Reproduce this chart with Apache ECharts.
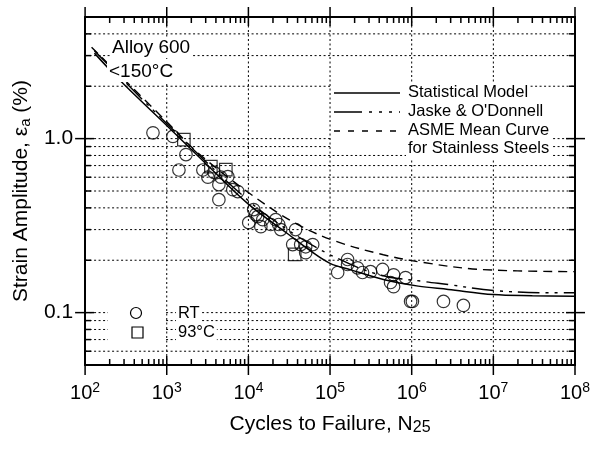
<!DOCTYPE html>
<html><head><meta charset="utf-8">
<script src="https://cdn.jsdelivr.net/npm/echarts@6/dist/echarts.min.js"></script>
<style>html,body{margin:0;padding:0;background:#fff}#c{width:600px;height:454px}</style>
</head><body><div id="c"></div>
<script>
// ---- axis limits / ticks ----
const xMin = 1e2, xMax = 1e8;
const yMin = 0.05, yMax = 5;
const xDecades = [1e2, 1e3, 1e4, 1e5, 1e6, 1e7, 1e8];
const xMinorMult = [2, 3, 4, 5, 6, 7, 8, 9];
const yGridValues = [0.05, 0.06, 0.07, 0.08, 0.09, 0.1, 0.2, 0.3, 0.4, 0.5, 0.6, 0.7, 0.8, 0.9, 1, 2, 3, 4, 5];
const yLabelValues = [0.1, 1.0];
const yLabelTexts = ['0.1', '1.0'];

// ---- curves ----
const statN = [130, 284, 1000, 3000, 10000, 30000, 55000, 100000, 180000, 450000, 1.2e6, 2.8e6, 1e7, 3e7, 1e8];
const statV = [3.1, 2.1, 1.19, 0.72, 0.42, 0.285, 0.23, 0.192, 0.176, 0.155, 0.142, 0.136, 0.127, 0.125, 0.124];
const jaskeN = [130, 1000, 10000, 30000, 100000, 400000, 1.4e6, 2.8e6, 1e7, 5.4e7, 1e8];
const jaskeV = [3.2, 1.22, 0.44, 0.30, 0.215, 0.165, 0.151, 0.145, 0.134, 0.130, 0.130];
const asmeN = [120, 1000, 2400, 10000, 36000, 110000, 450000, 1.4e6, 6.9e6, 1e8];
const asmeV = [3.35, 1.25, 0.83, 0.49, 0.33, 0.26, 0.215, 0.194, 0.177, 0.172];

// ---- data points ----
const rtN = [678, 1190, 1720, 1410, 2770, 3190, 3780, 4600, 5600, 4350, 4350, 6440, 7420,
  10100, 11600, 13000, 14200, 18800, 21600, 23500, 24900, 37900, 34900, 43700, 50300, 61300, 50300, 12300, 15000,
  124000, 164000, 164000, 217000, 250000, 313000, 440000, 600000, 840000, 551000, 600000,
  1.02e6, 9.7e5, 2.45e6, 4.3e6];
const rtV = [1.08, 1.03, 0.81, 0.66, 0.66, 0.60, 0.64, 0.60, 0.605, 0.544, 0.446, 0.509, 0.496,
  0.329, 0.391, 0.356, 0.312, 0.321, 0.342, 0.321, 0.300, 0.300, 0.246, 0.246, 0.239, 0.246, 0.221, 0.366, 0.342,
  0.170, 0.202, 0.189, 0.181, 0.170, 0.172, 0.177, 0.165, 0.159, 0.149, 0.141,
  0.116, 0.116, 0.116, 0.110];
const hotN = [1620, 3470, 5290, 36900];
const hotV = [0.987, 0.69, 0.664, 0.216];

const FONT = '"Liberation Sans", Arial, Helvetica, sans-serif';
const near = (a, b) => Math.abs(a - b) < 1e-6 * Math.max(1, Math.abs(b));

const xTickValues = [];
xDecades.forEach((d, i) => {
  xTickValues.push(d);
  if (i < xDecades.length - 1) xMinorMult.forEach(m => xTickValues.push(d * m));
});

const blackLine = { stroke: '#000', lineWidth: 1.5 };
const dotted = { stroke: '#000', lineWidth: 1, lineDash: [2, 2.5] };

const chart = echarts.init(document.getElementById('c'), null, { renderer: 'canvas' });

const option = {
  backgroundColor: '#fff',
  animation: false,
  textStyle: { fontFamily: FONT },
  grid: { left: 84, right: 25, top: 17, bottom: 89, containLabel: false },
  xAxis: [{
    type: 'log', logBase: 10, min: xMin, max: xMax,
    position: 'bottom',
    axisLine: { lineStyle: { color: '#000', width: 2 } },
    axisTick: { show: false },
    splitLine: { show: false },
    axisLabel: {
      margin: 16, color: '#000', fontFamily: FONT,
      formatter: v => '{b|10}{s|' + Math.round(Math.log10(v)) + '}',
      rich: {
        b: { fontSize: 20, lineHeight: 22, verticalAlign: 'bottom', fontFamily: FONT, color: '#000' },
        s: { fontSize: 14, lineHeight: 14, verticalAlign: 'top', fontFamily: FONT, color: '#000' }
      }
    },
    name: 'Cycles to Failure, N{s|25}',
    nameLocation: 'middle', nameGap: 44,
    nameTextStyle: {
      fontSize: 21, color: '#000', fontFamily: FONT, lineHeight: 23, verticalAlign: 'top',
      rich: { s: { fontSize: 16, lineHeight: 16, padding: [12, 0, 0, 0], verticalAlign: 'bottom', fontFamily: FONT, color: '#000' } }
    }
  }, {
    type: 'log', logBase: 10, min: xMin, max: xMax,
    position: 'top',
    axisLine: { lineStyle: { color: '#000', width: 2 } },
    axisTick: { show: false }, axisLabel: { show: false }, splitLine: { show: false }
  }],
  yAxis: [{
    type: 'log', logBase: 10, min: yMin, max: yMax,
    position: 'left',
    axisLine: { lineStyle: { color: '#000', width: 2 } },
    axisTick: { show: false },
    splitLine: { show: false },
    axisLabel: {
      margin: 12, fontSize: 21, color: '#000', fontFamily: FONT,
      formatter: v => {
        for (let i = 0; i < yLabelValues.length; i++) if (near(v, yLabelValues[i])) return yLabelTexts[i];
        return '';
      }
    },
    name: 'Strain Amplitude, ε{s|a} (%)',
    nameLocation: 'middle', nameGap: 52,
    nameTextStyle: {
      fontSize: 21, color: '#000', fontFamily: FONT, lineHeight: 23, verticalAlign: 'top',
      rich: { s: { fontSize: 15, lineHeight: 15, padding: [10, 0, 0, 0], verticalAlign: 'bottom', fontFamily: FONT, color: '#000' } }
    }
  }, {
    type: 'log', logBase: 10, min: yMin, max: yMax,
    position: 'right',
    axisLine: { lineStyle: { color: '#000', width: 2 } },
    axisTick: { show: false }, axisLabel: { show: false }, splitLine: { show: false }
  }],
  series: [
    {
      name: 'ygrid', type: 'custom', clip: false, z: 1, silent: true,
      data: yGridValues.map(v => [xMin, v]),
      renderItem: (params, api) => {
        const v = api.value(1);
        const a = api.coord([xMin, v]), b = api.coord([xMax, v]);
        const major = yLabelValues.some(m => near(v, m));
        const ch = [];
        if (!near(v, yMin) && !near(v, yMax)) {
          ch.push({ type: 'line', shape: { x1: a[0], y1: a[1], x2: b[0], y2: b[1] }, style: dotted });
          const tin = major ? 9 : 6, tout = major ? 10 : 0;
          ch.push({ type: 'line', shape: { x1: a[0] - tout, y1: a[1], x2: a[0] + tin, y2: a[1] }, style: blackLine });
          ch.push({ type: 'line', shape: { x1: b[0] - tin, y1: b[1], x2: b[0] + tout, y2: b[1] }, style: blackLine });
        }
        return { type: 'group', children: ch };
      }
    },
    {
      name: 'xgrid', type: 'custom', clip: false, z: 1, silent: true,
      data: xTickValues.map(n => [n, yMin]),
      renderItem: (params, api) => {
        const n = api.value(0);
        const a = api.coord([n, yMin]), b = api.coord([n, yMax]);
        const major = xDecades.some(d => near(n, d));
        const ch = [];
        if (major && !near(n, xMin) && !near(n, xMax)) {
          ch.push({ type: 'line', shape: { x1: a[0], y1: a[1], x2: b[0], y2: b[1] }, style: dotted });
        }
        const tin = major ? 9 : 6, tout = major ? 10 : 0;
        ch.push({ type: 'line', shape: { x1: a[0], y1: a[1] + tout, x2: a[0], y2: a[1] - tin }, style: blackLine });
        ch.push({ type: 'line', shape: { x1: b[0], y1: b[1] - tout, x2: b[0], y2: b[1] + tin }, style: blackLine });
        return { type: 'group', children: ch };
      }
    },
    {
      name: 'ASME Mean Curve for Stainless Steels', type: 'line', z: 3,
      data: asmeN.map((n, i) => [n, asmeV[i]]),
      showSymbol: false, smooth: 0.35, silent: true,
      lineStyle: { color: '#000', width: 1.4, type: [9, 6] }
    },
    {
      name: "Jaske & O'Donnell", type: 'line', z: 3,
      data: jaskeN.map((n, i) => [n, jaskeV[i]]),
      showSymbol: false, smooth: 0.35, silent: true,
      lineStyle: { color: '#000', width: 1.4, type: [22, 6, 3, 6, 3, 6] }
    },
    {
      name: 'Statistical Model', type: 'line', z: 3,
      data: statN.map((n, i) => [n, statV[i]]),
      showSymbol: false, smooth: 0.35, silent: true,
      lineStyle: { color: '#000', width: 1.5 }
    },
    {
      name: 'RT', type: 'scatter', z: 4, symbol: 'circle', symbolSize: 12.5,
      data: rtN.map((n, i) => [n, rtV[i]]),
      itemStyle: { color: 'rgba(0,0,0,0)', borderColor: '#000', borderWidth: 1.2 }
    },
    {
      name: '93°C', type: 'scatter', z: 4, symbol: 'rect', symbolSize: 12.5,
      data: hotN.map((n, i) => [n, hotV[i]]),
      itemStyle: { color: 'rgba(0,0,0,0)', borderColor: '#000', borderWidth: 1.2 }
    }
  ],
  graphic: [
    // annotation
    { type: 'text', z: 50, left: 110, top: 37, style: { text: 'Alloy 600', font: '19px ' + FONT, fill: '#000', backgroundColor: '#fff', padding: [1, 2] } },
    { type: 'text', z: 50, left: 107, top: 61, style: { text: '<150°C', font: '19px ' + FONT, fill: '#000', backgroundColor: '#fff', padding: [1, 2] } },
    // curve legend
    { type: 'rect', z: 50, shape: { x: 331, y: 82, width: 77, height: 70 }, style: { fill: '#fff' } },
    { type: 'line', z: 51, shape: { x1: 334, y1: 93, x2: 400, y2: 93 }, style: { stroke: '#000', lineWidth: 1.5 } },
    { type: 'line', z: 51, shape: { x1: 334, y1: 112, x2: 400, y2: 112 }, style: { stroke: '#000', lineWidth: 1.4, lineDash: [28, 7, 3, 7, 3, 7, 3, 7] } },
    { type: 'line', z: 51, shape: { x1: 334, y1: 131, x2: 400, y2: 131 }, style: { stroke: '#000', lineWidth: 1.4, lineDash: [6, 8] } },
    { type: 'text', z: 51, left: 406, top: 83, style: { text: 'Statistical Model', font: '16.5px ' + FONT, fill: '#000', backgroundColor: '#fff', padding: [1, 2] } },
    { type: 'text', z: 51, left: 406, top: 102, style: { text: "Jaske & O'Donnell", font: '16.5px ' + FONT, fill: '#000', backgroundColor: '#fff', padding: [1, 2] } },
    { type: 'text', z: 51, left: 406, top: 121, style: { text: 'ASME Mean Curve', font: '16.5px ' + FONT, fill: '#000', backgroundColor: '#fff', padding: [1, 2] } },
    { type: 'text', z: 51, left: 406, top: 139, style: { text: 'for Stainless Steels', font: '16.5px ' + FONT, fill: '#000', backgroundColor: '#fff', padding: [1, 2] } },
    // symbol legend
    { type: 'rect', z: 50, shape: { x: 108, y: 304, width: 58, height: 40 }, style: { fill: '#fff' } },
    { type: 'circle', z: 51, shape: { cx: 136, cy: 313, r: 5.5 }, style: { fill: 'none', stroke: '#000', lineWidth: 1.2 } },
    { type: 'rect', z: 51, shape: { x: 132, y: 327, width: 11, height: 11 }, style: { fill: 'none', stroke: '#000', lineWidth: 1.2 } },
    { type: 'text', z: 51, left: 176, top: 304, style: { text: 'RT', font: '16.5px ' + FONT, fill: '#000', backgroundColor: '#fff', padding: [1, 2] } },
    { type: 'text', z: 51, left: 176, top: 323, style: { text: '93°C', font: '16.5px ' + FONT, fill: '#000', backgroundColor: '#fff', padding: [1, 2] } }
  ]
};
chart.setOption(option);
</script></body></html>
